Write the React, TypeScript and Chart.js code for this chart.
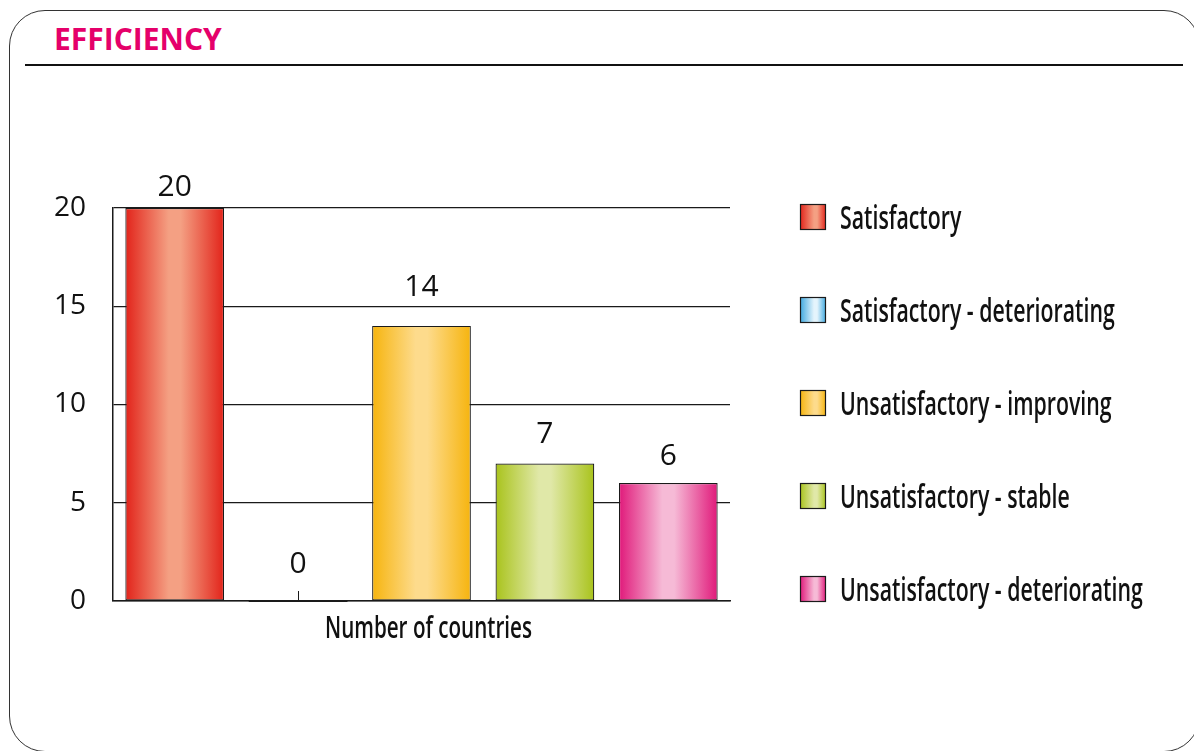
import React, { useEffect, useRef } from "react";
import { Chart, registerables } from "chart.js";

Chart.register(...registerables);

const categories = ["Number of countries"];
const seriesNames = [
  "Satisfactory",
  "Satisfactory - deteriorating",
  "Unsatisfactory - improving",
  "Unsatisfactory - stable",
  "Unsatisfactory - deteriorating",
];
const seriesValues = [20, 0, 14, 7, 6];
const yTickStep = 5;
const yMax = 20;

const edgeColors = ["#e2231a", "#3ea8df", "#f6b40e", "#a9c31c", "#e0197a"];
const midColors = ["#f4a083", "#e4f4fc", "#fddb8c", "#e0e8a8", "#f6bad6"];
const labelGaps = [12, 28, 30, 20, 18];

const SANS = "'Open Sans', 'Noto Sans', sans-serif";
const COND = 0.665;
const INK = "#1a1a1a";

function makeGradient(ctx: CanvasRenderingContext2D, x0: number, x1: number, i: number, lightAt = 0.5) {
  const g = ctx.createLinearGradient(x0, 0, x1, 0);
  g.addColorStop(0, edgeColors[i]);
  g.addColorStop(Math.max(0, lightAt - 0.06), midColors[i]);
  g.addColorStop(Math.min(1, lightAt + 0.06), midColors[i]);
  g.addColorStop(1, edgeColors[i]);
  return g;
}

function drawCondensed(
  ctx: CanvasRenderingContext2D,
  text: string,
  x: number,
  y: number,
  size: number,
  align: CanvasTextAlign
) {
  ctx.save();
  ctx.translate(x, y);
  ctx.scale(COND, 1);
  ctx.font = `600 ${size}px ${SANS}`;
  ctx.fillStyle = "#111";
  ctx.textAlign = align;
  ctx.textBaseline = "alphabetic";
  ctx.fillText(text, 0, 0);
  ctx.restore();
}

const overlayPlugin = {
  id: "overlay",
  afterDatasetsDraw(chart: any) {
    const ctx: CanvasRenderingContext2D = chart.ctx;
    ctx.save();
    ctx.font = `30px ${SANS}`;
    ctx.fillStyle = "#111";
    ctx.textAlign = "center";
    ctx.textBaseline = "alphabetic";
    chart.data.datasets.forEach((ds: any, i: number) => {
      const el = chart.getDatasetMeta(i).data[0];
      if (!el) return;
      const v = ds.data[0];
      ctx.fillText(String(v), el.x, el.y - labelGaps[i]);
      if (v === 0) {
        ctx.strokeStyle = INK;
        ctx.lineWidth = 1;
        ctx.beginPath();
        ctx.moveTo(Math.round(el.x) + 0.5, el.y - 10);
        ctx.lineTo(Math.round(el.x) + 0.5, el.y);
        ctx.stroke();
        ctx.lineWidth = 2;
        ctx.beginPath();
        ctx.moveTo(el.x - el.width / 2, el.y);
        ctx.lineTo(el.x + el.width / 2, el.y);
        ctx.stroke();
      }
    });
    ctx.restore();
  },
  afterDraw(chart: any) {
    const ctx: CanvasRenderingContext2D = chart.ctx;
    // category label under the axis
    const xs = chart.scales.x;
    chart.data.labels.forEach((lab: string, j: number) => {
      const cx = xs.getPixelForTick(j) + 7;
      drawCondensed(ctx, lab, cx, xs.top + 37, 31, "center");
    });
    // legend
    ctx.save();
    const boxX = 800;
    const box = 26;
    const textX = 840;
    const firstY = 217;
    const step = 93;
    chart.data.datasets.forEach((ds: any, i: number) => {
      const cy = firstY + i * step;
      ctx.fillStyle = makeGradient(ctx, boxX, boxX + box, i, 0.6);
      ctx.fillRect(boxX, cy - box / 2, box, box);
      ctx.strokeStyle = INK;
      ctx.lineWidth = 1.2;
      ctx.strokeRect(boxX + 0.5, cy - box / 2 + 0.5, box - 1, box - 1);
      drawCondensed(ctx, ds.label, textX, cy + 12, 32, "left");
    });
    ctx.restore();
  },
};

export default function App() {
  const ref = useRef<HTMLCanvasElement | null>(null);

  useEffect(() => {
    if (!ref.current) return;
    const datasets = seriesNames.map((name, i) => ({
      label: name,
      data: [seriesValues[i]],
      backgroundColor: (c: any) => {
        const meta = c.chart.getDatasetMeta(i);
        const el = meta && meta.data[0];
        if (!el || typeof el.x !== "number" || isNaN(el.x) || !el.width) return edgeColors[i];
        return makeGradient(c.chart.ctx, el.x - el.width / 2, el.x + el.width / 2, i);
      },
      borderColor: INK,
      borderWidth: 1.2,
      borderSkipped: false,
      categoryPercentage: 1,
      barPercentage: 0.8,
    }));

    const chart = new Chart(ref.current, {
      type: "bar",
      data: { labels: categories, datasets },
      plugins: [overlayPlugin],
      options: {
        responsive: false,
        animation: false,
        layout: { padding: { top: 208, right: 464, left: 0, bottom: 0 } },
        plugins: {
          legend: { display: false },
          tooltip: { enabled: false },
        },
        scales: {
          x: {
            grid: { display: false, drawTicks: false },
            border: { display: true, color: INK, width: 1.5 },
            ticks: { display: false },
            afterFit: (axis: any) => {
              axis.height = 150;
            },
          },
          y: {
            min: 0,
            max: yMax,
            grid: { color: INK, lineWidth: 1.2, drawTicks: false },
            border: { display: true, color: INK, width: 1.5 },
            ticks: {
              stepSize: yTickStep,
              color: "#111",
              font: { family: SANS, size: 28 },
              padding: 27,
            },
            afterFit: (axis: any) => {
              axis.width = 113;
            },
          },
        },
      },
    } as any);
    chart.update("none");
    return () => chart.destroy();
  }, []);

  return (
    <div
      style={{
        position: "fixed",
        left: 0,
        top: 0,
        width: 1194,
        height: 751,
        overflow: "hidden",
        background: "#fff",
      }}
    >
      <div
        style={{
          position: "absolute",
          left: 9,
          top: 10,
          width: 1191,
          height: 742,
          border: "1.5px solid #333",
          borderRadius: 36,
          boxSizing: "border-box",
        }}
      />
      <div
        style={{
          position: "absolute",
          left: 54,
          top: 24,
          fontFamily: SANS,
          fontWeight: 700,
          fontSize: 30,
          lineHeight: "30px",
          color: "#e5006a",
          whiteSpace: "nowrap",
        }}
      >
        EFFICIENCY
      </div>
      <div
        style={{
          position: "absolute",
          left: 25,
          top: 64,
          width: 1158,
          height: 1.5,
          background: "#111",
        }}
      />
      <canvas
        ref={ref}
        width={1194}
        height={751}
        style={{ position: "absolute", left: 0, top: 0 }}
      />
    </div>
  );
}
